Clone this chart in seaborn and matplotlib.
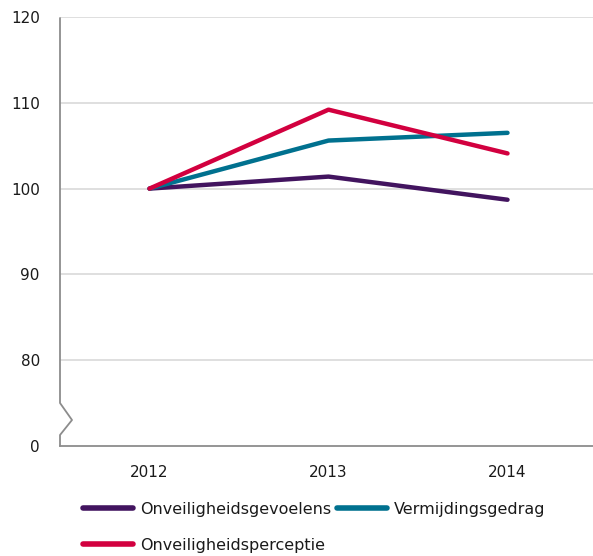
import matplotlib
matplotlib.use("Agg")
import matplotlib.pyplot as plt
import seaborn as sns
import pandas as pd
from matplotlib.lines import Line2D

years = ["2012", "2013", "2014"]
gevoelens = [100.0, 101.4, 98.7]
vermijding = [100.0, 105.6, 106.5]
perceptie = [100.0, 109.2, 104.1]
series_names = ["Onveiligheidsgevoelens", "Vermijdingsgedrag", "Onveiligheidsperceptie"]
colors = ["#42145f", "#00718f", "#d2003f"]
ytick_values = [70, 80, 90, 100, 110, 120]
ytick_labels = ["0", "80", "90", "100", "110", "120"]

rows = []
for name, vals in zip(series_names, [gevoelens, vermijding, perceptie]):
    for y, v in zip(years, vals):
        rows.append({"jaar": y, "waarde": v, "reeks": name})
df = pd.DataFrame(rows)

sns.set_theme(style="white")
plt.rcParams["font.family"] = ["DejaVu Sans"]

fig = plt.figure(figsize=(5.93, 5.56), dpi=100)
ax = fig.add_axes([60 / 593, 1 - 446 / 556, (597 - 60) / 593, (446 - 17) / 556])

sns.lineplot(data=df, x="jaar", y="waarde", hue="reeks", palette=colors,
             hue_order=series_names, linewidth=3.2, ax=ax, legend=False,
             solid_capstyle="round", sort=False)

ax.set_xlim(-0.5, 2.5)
ax.set_ylim(70, 120)
ax.set_yticks(ytick_values)
ax.set_yticklabels(ytick_labels)
ax.set_xlabel("")
ax.set_ylabel("")
for v in ytick_values[1:]:
    ax.axhline(v, color="#dcdcdc", linewidth=1.3, zorder=0)
ax.tick_params(axis="both", length=0, labelsize=11, labelcolor="#1a1a1a")
ax.tick_params(axis="y", pad=14.5)
ax.tick_params(axis="x", pad=14)
for s in ["top", "right", "left"]:
    ax.spines[s].set_visible(False)
ax.spines["bottom"].set_color("#8c8c8c")
ax.spines["bottom"].set_linewidth(1.3)

# left axis line with break mark (axes coordinates)
h = 446 - 17
w = 597 - 60
def fy(py):
    return (446 - py) / h
bx = [0, 0, 12 / w, 0, 0]
by = [1 - 1 / h, fy(403), fy(420), fy(435), 0]
ax.plot(bx, by, transform=ax.transAxes, color="#8c8c8c", linewidth=1.3, clip_on=False)

handles = [Line2D([0], [0], color=c, linewidth=4, solid_capstyle="round") for c in colors]
order = [0, 2, 1]
fig.legend([handles[i] for i in order], [series_names[i] for i in order],
           loc="upper left", bbox_to_anchor=(83 / 593, 1 - 502 / 556), ncol=2,
           frameon=False, fontsize=11.5, handlelength=3.1, handletextpad=0.45,
           columnspacing=0.4, labelspacing=1.3, borderaxespad=0, borderpad=0)
for t in fig.legends[0].get_texts():
    t.set_color("#1a1a1a")

fig.savefig("out.png", dpi=100)
